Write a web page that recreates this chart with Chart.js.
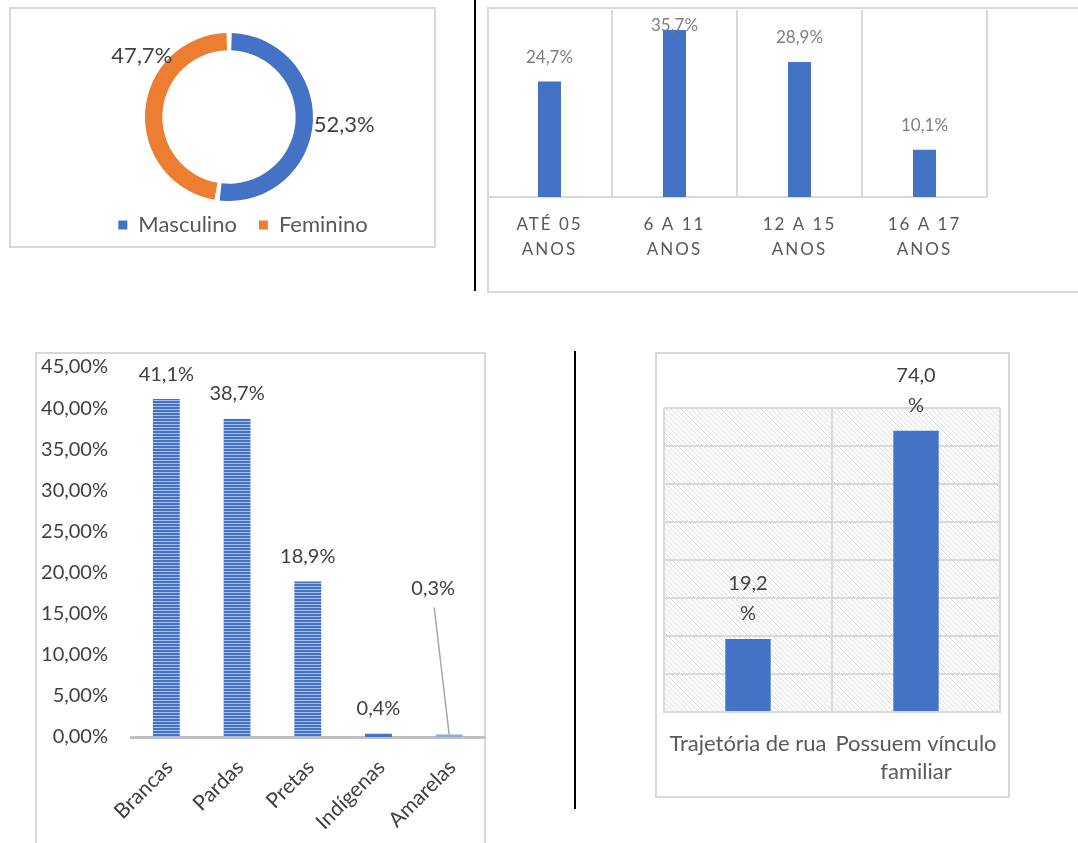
<!DOCTYPE html>
<html lang="pt-BR">
<head>
<meta charset="utf-8">
<title>Perfil das crianças e adolescentes atendidos</title>
<script src="https://cdn.jsdelivr.net/npm/chart.js@4.4.1/dist/chart.umd.min.js"></script>
<style>
  body { margin: 0; background: #fff; }
  .quadro { position: absolute; box-sizing: border-box; border: 2px solid #d9d9d9; }
  .divisor { position: absolute; width: 2px; background: #000; }
  canvas { position: absolute; }
</style>
</head>
<body>
<div class="quadro" style="left:9px;top:7px;width:427px;height:241px"></div>
<div class="quadro" style="left:487px;top:7px;width:600px;height:286px"></div>
<div class="quadro" style="left:35px;top:352px;width:451px;height:600px"></div>
<div class="quadro" style="left:655px;top:352px;width:355px;height:446px"></div>
<div class="divisor" style="left:474px;top:0;height:291px"></div>
<div class="divisor" style="left:574px;top:351px;height:458px"></div>

<canvas id="graficoGenero" width="426" height="240" style="left:9px;top:7px"></canvas>
<canvas id="graficoIdade" width="591" height="285" style="left:487px;top:7px"></canvas>
<canvas id="graficoRaca" width="449" height="490" style="left:36px;top:353px"></canvas>
<canvas id="graficoVinculo" width="354" height="444" style="left:655px;top:353px"></canvas>

<script>
// gênero
const generoRotulos = ['Masculino', 'Feminino'];
const generoValores = [52.3, 47.7];

// faixa etária
const idadeRotulos = [['ATÉ 05', 'ANOS'], ['6 A 11', 'ANOS'], ['12 A 15', 'ANOS'], ['16 A 17', 'ANOS']];
const idadeValores = [24.7, 35.7, 28.9, 10.1];

// raça / cor
const racaRotulos = ['Brancas', 'Pardas', 'Pretas', 'Indígenas', 'Amarelas'];
const racaValores = [41.1, 38.7, 18.9, 0.4, 0.3];
const racaEixoMax = 45;
const racaEixoPasso = 5;

// vínculo familiar
const vinculoRotulos = [['Trajetória de rua'], ['Possuem vínculo', 'familiar']];
const vinculoValores = [19.2, 74.0];
const vinculoEixoMax = 80;
const vinculoEixoPasso = 10;

const AZUL = '#4472c4';
const LARANJA = '#ed7d31';

Chart.defaults.font.family = 'Lato';
Chart.defaults.animation = false;
Chart.defaults.plugins.tooltip.enabled = false;

function pct(v, casas) {
  return v.toFixed(casas).replace('.', ',') + '%';
}

// rótulos de valor (arcos e barras)
const rotulosValor = {
  id: 'rotulosValor',
  afterDatasetsDraw(chart, args, opts) {
    const ctx = chart.ctx;
    const meta = chart.getDatasetMeta(0);
    const valores = chart.data.datasets[0].data;
    ctx.save();
    ctx.letterSpacing = '0px';
    ctx.font = opts.fonte;
    ctx.fillStyle = opts.cor;
    ctx.textAlign = 'center';
    ctx.textBaseline = 'middle';
    meta.data.forEach((el, i) => {
      const texto = pct(valores[i], 1);
      if (opts.tipo === 'arco') {
        const p = el.getProps(['x', 'y', 'startAngle', 'endAngle', 'outerRadius'], true);
        const pos = opts.posicoes[i];
        const ang = p.startAngle + (p.endAngle - p.startAngle) * pos.fracao;
        const r = p.outerRadius + pos.distancia;
        ctx.fillText(texto, p.x + Math.cos(ang) * r, p.y + Math.sin(ang) * r);
        return;
      }
      const aj = (opts.ajustes && opts.ajustes[i]) || null;
      let x = el.x;
      let y = el.y - opts.distancia;
      if (opts.topoMin !== undefined) y = Math.max(y, chart.chartArea.top + opts.topoMin);
      if (aj) {
        x = el.x + aj.dx;
        y = el.y + aj.dy;
        ctx.save();
        ctx.strokeStyle = aj.guia;
        ctx.lineWidth = 1.5;
        ctx.beginPath();
        ctx.moveTo(x + 1, y + 19);
        ctx.lineTo(el.x, el.y);
        ctx.stroke();
        ctx.restore();
      }
      if (opts.quebra) {
        const linhas = [texto.slice(0, -1), '%'];
        linhas.forEach((l, k) => {
          ctx.fillText(l, x, y - (linhas.length - 1 - k) * opts.entreLinhas);
        });
      } else {
        ctx.fillText(texto, x, y);
      }
    });
    ctx.restore();
  }
};

// espaçamento entre letras nos rótulos do eixo
const espacoLetras = {
  id: 'espacoLetras',
  beforeDraw(chart, args, opts) { chart.ctx.letterSpacing = opts.valor; },
  afterDraw(chart) { chart.ctx.letterSpacing = '0px'; }
};

// reposiciona a legenda depois do layout
const deslocaLegenda = {
  id: 'deslocaLegenda',
  afterLayout(chart, args, opts) {
    const lg = chart.legend;
    lg.left += opts.dx;
    lg.right += opts.dx;
    lg.top += opts.dy;
    lg.bottom += opts.dy;
  }
};

// fundo hachurado da área do gráfico
const fundoHachurado = {
  id: 'fundoHachurado',
  beforeDraw(chart, args, opts) {
    const n = opts.passo;
    const tile = document.createElement('canvas');
    tile.width = n;
    tile.height = n;
    const t = tile.getContext('2d');
    t.strokeStyle = opts.cor;
    t.lineWidth = 1;
    t.beginPath();
    t.moveTo(-1, -1);
    t.lineTo(n + 1, n + 1);
    t.stroke();
    const a = chart.chartArea;
    const ctx = chart.ctx;
    ctx.save();
    ctx.fillStyle = ctx.createPattern(tile, 'repeat');
    ctx.fillRect(a.left, a.top, a.right - a.left, a.bottom - a.top);
    ctx.restore();
  }
};

function padraoListras(ctx) {
  const c = document.createElement('canvas');
  c.width = 1;
  c.height = 3;
  const g = c.getContext('2d');
  g.fillStyle = AZUL;
  g.fillRect(0, 0, 1, 2);
  g.fillStyle = '#a9bfe8';
  g.fillRect(0, 2, 1, 1);
  return ctx.createPattern(c, 'repeat');
}

// 1) gênero
new Chart(document.getElementById('graficoGenero'), {
  type: 'doughnut',
  data: {
    labels: generoRotulos,
    datasets: [{ data: generoValores, backgroundColor: [AZUL, LARANJA], borderWidth: 0, spacing: 3 }]
  },
  options: {
    responsive: false,
    cutout: '79%',
    layout: { padding: { top: 26, left: 14, right: 0, bottom: 0 } },
    plugins: {
      legend: {
        position: 'bottom',
        maxHeight: 46,
        labels: { boxWidth: 9, boxHeight: 9, padding: 22, color: '#595959', font: { size: 22 } }
      },
      deslocaLegenda: { dx: 14, dy: -9 },
      rotulosValor: {
        tipo: 'arco', cor: '#404040', fonte: '22px Lato',
        posicoes: [{ fracao: 0.5, distancia: 33 }, { fracao: 0.68, distancia: 24 }]
      }
    }
  },
  plugins: [deslocaLegenda, rotulosValor]
});

// 2) faixa etária
new Chart(document.getElementById('graficoIdade'), {
  type: 'bar',
  data: {
    labels: idadeRotulos,
    datasets: [{ data: idadeValores, backgroundColor: AZUL, barPercentage: 0.184, categoryPercentage: 1 }]
  },
  options: {
    responsive: false,
    layout: { padding: { top: 3, right: 91, left: 0, bottom: 0 } },
    scales: {
      x: {
        grid: { color: '#d9d9d9', lineWidth: 2, drawTicks: false, offset: true },
        border: { color: '#d9d9d9', width: 2 },
        ticks: { color: '#595959', font: { size: 17, lineHeight: 1.47 }, padding: 15, maxRotation: 0 },
        afterFit: s => { s.height = 95; }
      },
      y: { display: false, min: 0, max: 40 }
    },
    plugins: {
      legend: { display: false },
      espacoLetras: { valor: '2px' },
      rotulosValor: { cor: '#7f7f7f', fonte: '17px Lato', distancia: 24, topoMin: 16 }
    }
  },
  plugins: [espacoLetras, rotulosValor]
});

// 3) raça / cor
const ctxRaca = document.getElementById('graficoRaca').getContext('2d');
const listras = padraoListras(ctxRaca);
new Chart(ctxRaca, {
  type: 'bar',
  data: {
    labels: racaRotulos,
    datasets: [{
      data: racaValores,
      backgroundColor: [listras, listras, listras, AZUL, '#8faadc'],
      barPercentage: 0.38,
      categoryPercentage: 1
    }]
  },
  options: {
    responsive: false,
    layout: { padding: { top: 14, right: 0, left: 0, bottom: 0 } },
    scales: {
      x: {
        grid: { display: false, drawTicks: false },
        border: { color: '#bfbfbf', width: 3 },
        ticks: { color: '#404040', font: { size: 21 }, minRotation: 45, maxRotation: 45, padding: 18, labelOffset: 3 },
        afterFit: s => { s.height = 106; }
      },
      y: {
        min: 0, max: racaEixoMax,
        grid: { display: false, drawTicks: true, tickLength: 23 },
        border: { display: false },
        ticks: { stepSize: racaEixoPasso, color: '#404040', font: { size: 20 }, padding: 0, callback: v => pct(v, 2) },
        afterFit: s => { s.width = 95; }
      }
    },
    plugins: {
      legend: { display: false },
      rotulosValor: {
        cor: '#404040', fonte: '20px Lato', distancia: 25,
        ajustes: { 4: { dx: -16, dy: -146, guia: '#a6a6a6' } }
      }
    }
  },
  plugins: [rotulosValor]
});

// 4) vínculo familiar
new Chart(document.getElementById('graficoVinculo'), {
  type: 'bar',
  data: {
    labels: vinculoRotulos,
    datasets: [{ data: vinculoValores, backgroundColor: AZUL, barPercentage: 0.27, categoryPercentage: 1 }]
  },
  options: {
    responsive: false,
    layout: { padding: { top: 55, right: 9, left: 9, bottom: 0 } },
    scales: {
      x: {
        // o recuo dos rótulos vem do tickLength (marcas invisíveis) para não estreitar a área do gráfico
        grid: { color: '#d9d9d9', lineWidth: 2, drawTicks: true, tickLength: 18, tickColor: 'rgba(0,0,0,0)', offset: true },
        border: { color: '#d9d9d9', width: 2 },
        ticks: { color: '#595959', font: { size: 22, lineHeight: 1.27 }, padding: 0, maxRotation: 0 },
        afterFit: s => { s.height = 85; }
      },
      y: {
        min: 0, max: vinculoEixoMax,
        grid: { color: '#d9d9d9', lineWidth: 2, drawTicks: false },
        border: { display: false },
        ticks: { stepSize: vinculoEixoPasso, display: false },
        afterFit: s => { s.width = 0; }
      }
    },
    plugins: {
      legend: { display: false },
      fundoHachurado: { cor: '#dadada', passo: 5 },
      rotulosValor: { cor: '#404040', fonte: '20px Lato', distancia: 25, quebra: true, entreLinhas: 30 }
    }
  },
  plugins: [fundoHachurado, rotulosValor]
});
</script>
</body>
</html>
